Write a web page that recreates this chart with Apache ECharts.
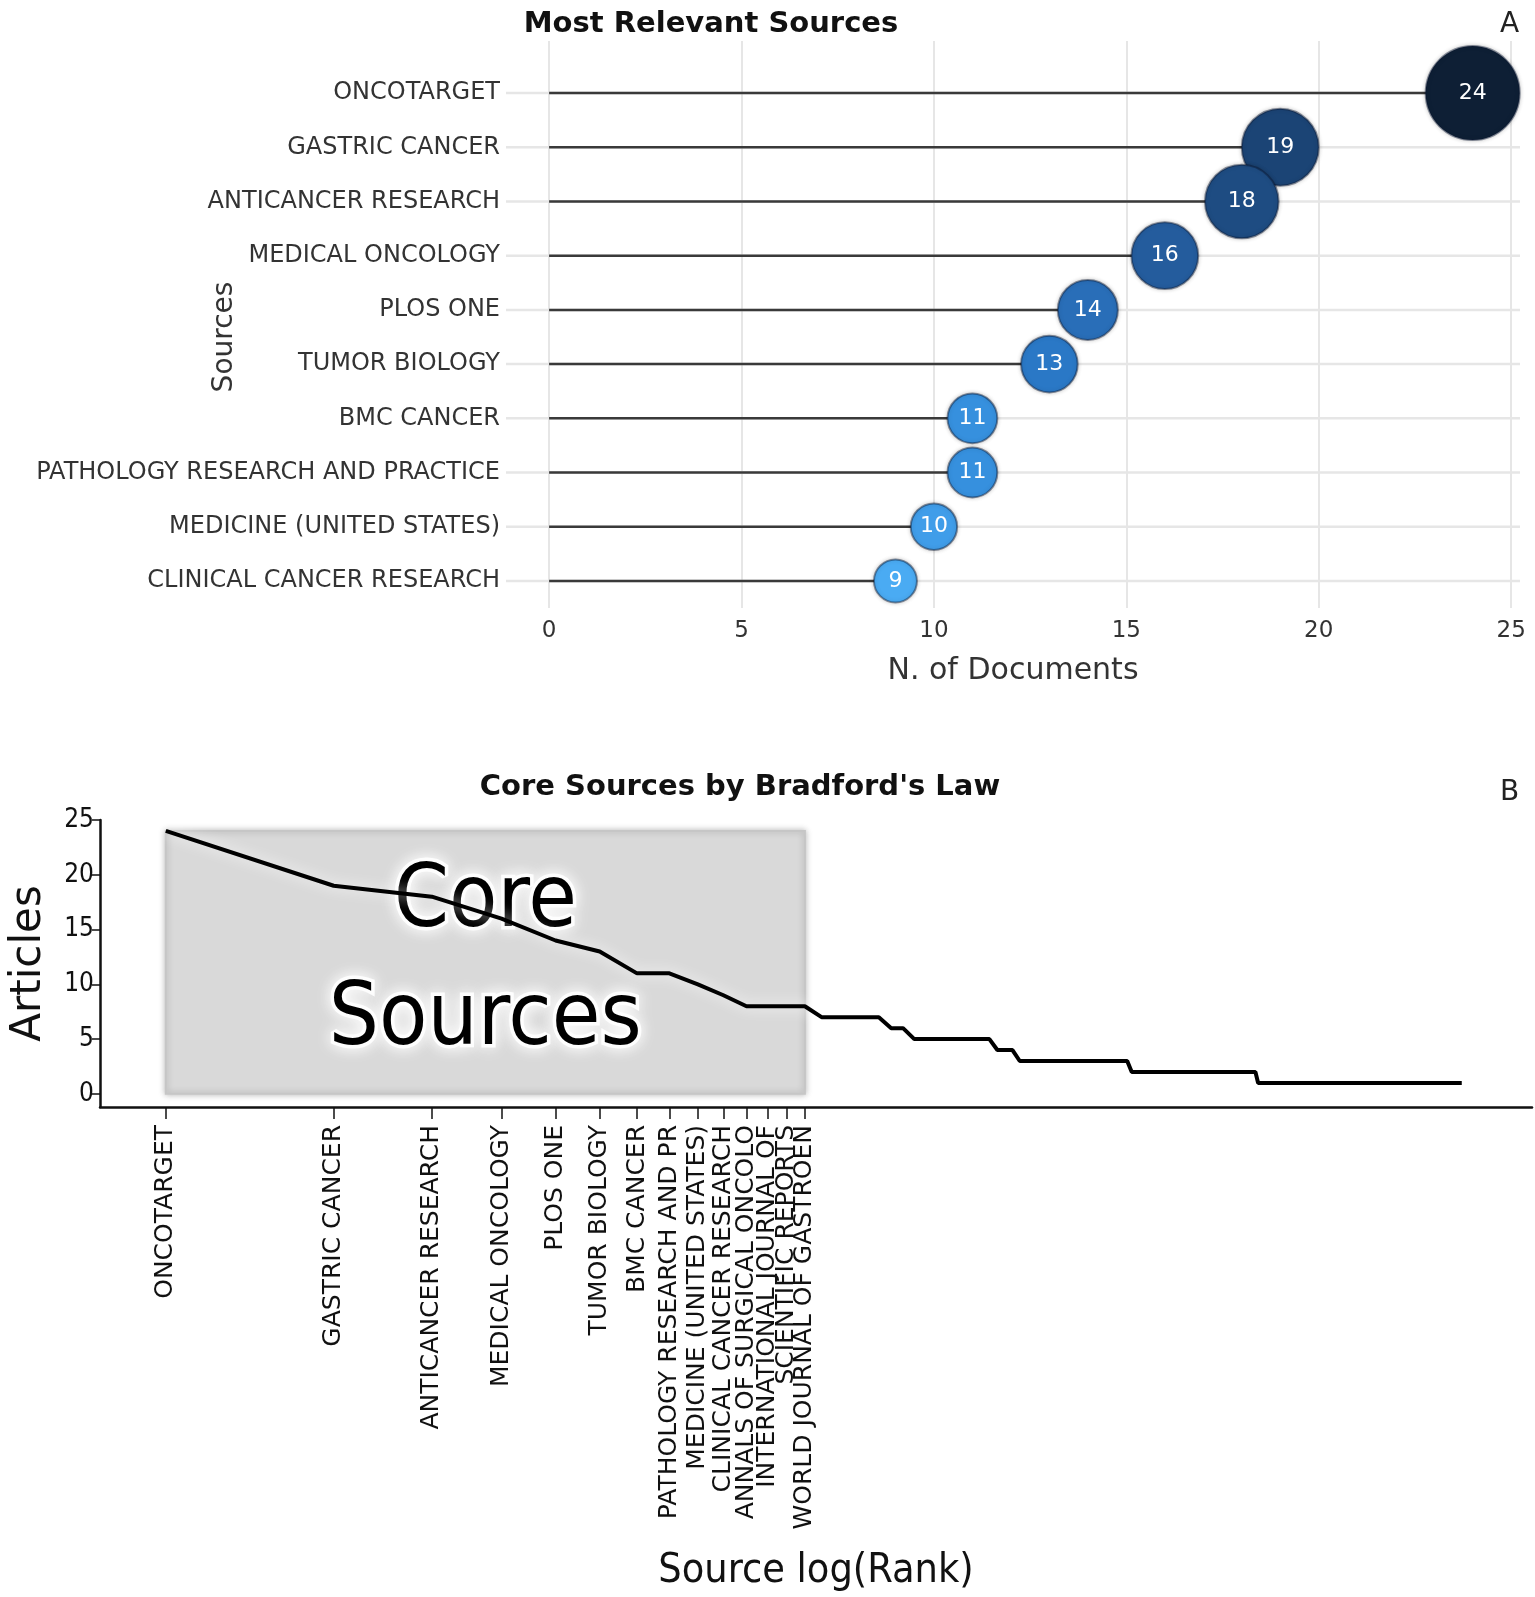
<!DOCTYPE html>
<html>
<head>
<meta charset="utf-8">
<script src="https://cdn.jsdelivr.net/npm/echarts@6/dist/echarts.min.js"></script>
<style>
  html, body { margin: 0; padding: 0; background: #fff; }
  #chart { width: 1535px; height: 1597px; }
</style>
</head>
<body>
<div id="chart"></div>
<script>
// panel A: most relevant sources
const sources = [
    'ONCOTARGET',
    'GASTRIC CANCER',
    'ANTICANCER RESEARCH',
    'MEDICAL ONCOLOGY',
    'PLOS ONE',
    'TUMOR BIOLOGY',
    'BMC CANCER',
    'PATHOLOGY RESEARCH AND PRACTICE',
    'MEDICINE (UNITED STATES)',
    'CLINICAL CANCER RESEARCH'
];
const documents = [24, 19, 18, 16, 14, 13, 11, 11, 10, 9];
const docTicks = [0, 5, 10, 15, 20, 25];

// panel B: bradford's law (rank of source, articles)
const coreSources = [
    'ONCOTARGET',
    'GASTRIC CANCER',
    'ANTICANCER RESEARCH',
    'MEDICAL ONCOLOGY',
    'PLOS ONE',
    'TUMOR BIOLOGY',
    'BMC CANCER',
    'PATHOLOGY RESEARCH AND PR',
    'MEDICINE (UNITED STATES)',
    'CLINICAL CANCER RESEARCH',
    'ANNALS OF SURGICAL ONCOLO',
    'INTERNATIONAL JOURNAL OF',
    'SCIENTIFIC REPORTS',
    'WORLD JOURNAL OF GASTROEN'
];
const coreRanks = [1, 2, 3, 4, 5, 6, 7, 8, 9, 10, 11, 12, 13, 14];
const sourceRanks = [1, 2, 3, 4, 5, 6, 7, 8, 9, 10, 11, 12, 13, 14, 15, 19, 20, 21, 22, 30, 31, 33, 34, 53, 54, 90, 91, 211];
const sourceArticles = [24, 19, 18, 16, 14, 13, 11, 11, 10, 9, 8, 8, 8, 8, 7, 7, 6, 6, 5, 5, 4, 4, 3, 3, 2, 2, 1, 1];
const articleTicks = [0, 5, 10, 15, 20, 25];

const font = 'DejaVu Sans';
const fontNarrow = 'DejaVu Sans Condensed';

// the rank labels sit very close together at the right end; echarts hides a label
// that overlaps the last one, so odd and even ranks go on two stacked axes
const oddRanks = coreRanks.filter(r => r % 2 === 1);
const evenRanks = coreRanks.filter(r => r % 2 === 0);

function rankAxis(ticks, main) {
    return {
        gridIndex: 2, type: 'log', logBase: 10, min: 0.762, max: 282,
        position: 'bottom',
        name: main ? 'Source log(Rank)' : '',
        nameLocation: 'middle', nameGap: 444, nameMoveOverlap: false,
        nameTextStyle: { fontFamily: fontNarrow, fontSize: 41, color: '#111' },
        axisLine: { show: main, onZero: false, lineStyle: { color: '#111', width: 2.5 } },
        axisTick: { show: true, customValues: ticks, length: 12, lineStyle: { color: '#111', width: 1.5 } },
        axisLabel: {
            customValues: ticks,
            interval: 0,
            hideOverlap: false,
            showMinLabel: true,
            showMaxLabel: true,
            rotate: 90,
            margin: 18,
            fontFamily: font,
            fontSize: 25,
            color: '#111',
            formatter: function (v) {
                return coreSources[Math.round(v) - 1] || '';
            }
        },
        splitLine: { show: false }
    };
}

const chart = echarts.init(document.getElementById('chart'), null, { renderer: 'canvas' });

const option = {
    backgroundColor: '#fff',
    animation: false,
    title: [
        {
            text: 'Most Relevant Sources',
            left: 706, top: 5, textAlign: 'center',
            textStyle: { fontFamily: font, fontWeight: 'bold', fontSize: 29, color: '#111' }
        },
        {
            text: "Core Sources by Bradford's Law",
            left: 735, top: 768, textAlign: 'center',
            textStyle: { fontFamily: font, fontWeight: 'bold', fontSize: 29, color: '#111' }
        },
        { text: 'A', left: 1495, top: 6, textStyle: { fontFamily: font, fontWeight: 'normal', fontSize: 28, color: '#222' } },
        { text: 'B', left: 1495, top: 774, textStyle: { fontFamily: font, fontWeight: 'normal', fontSize: 28, color: '#222' } }
    ],
    grid: [
        { left: 506, right: 15, top: 66, height: 542 },   // A
        { left: 506, right: 15, top: 41, height: 25 },    // A (grid line top extension)
        { left: 94, right: 3, top: 820, bottom: 490 }      // B
    ],
    visualMap: {
        show: false,
        seriesIndex: 1,
        dimension: 0,
        min: 9,
        max: 24,
        inRange: {
            color: ['#4aabf3', '#2c82d4', '#2764aa', '#1e4c82', '#15335a', '#0e1f35'],
            symbolSize: [43, 94]
        }
    },
    xAxis: [
        {
            gridIndex: 0, type: 'value', min: -1.12, max: 25.23,
            name: 'N. of Documents', nameLocation: 'middle', nameGap: 48, nameMoveOverlap: false,
            nameTextStyle: { fontFamily: font, fontSize: 30, color: '#333' },
            axisLine: { show: false },
            axisTick: { show: false, customValues: docTicks },
            axisLabel: { customValues: docTicks, fontFamily: font, fontSize: 23, color: '#333', margin: 12 },
            splitLine: { show: true, lineStyle: { color: '#e6e6e6', width: 2 } }
        },
        {
            gridIndex: 1, type: 'value', min: -1.12, max: 25.23,
            axisLine: { show: false },
            axisTick: { show: false, customValues: docTicks },
            axisLabel: { show: false, customValues: docTicks },
            splitLine: { show: true, lineStyle: { color: '#e6e6e6', width: 2 } }
        },
        rankAxis(oddRanks, true),
        rankAxis(evenRanks, false)
    ],
    yAxis: [
        {
            gridIndex: 0, type: 'category', inverse: true, data: sources,
            name: 'Sources', nameLocation: 'middle', nameGap: 267, nameRotate: 90, nameMoveOverlap: false,
            nameTextStyle: { fontFamily: font, fontSize: 28, color: '#333' },
            axisLine: { show: false },
            axisTick: { show: false },
            axisLabel: { fontFamily: font, fontSize: 24, color: '#333', margin: 6 },
            splitLine: { show: false }
        },
        {
            gridIndex: 1, type: 'value', show: false
        },
        {
            gridIndex: 2, type: 'value', min: -1.2, max: 25,
            name: 'Articles', nameLocation: 'middle', nameGap: 50, nameRotate: 90, nameMoveOverlap: false,
            nameTextStyle: { fontFamily: font, fontSize: 42, color: '#111' },
            axisLine: { show: true, onZero: false, lineStyle: { color: '#111', width: 2.5 } },
            axisTick: { show: true, customValues: articleTicks, length: 8, lineStyle: { color: '#111', width: 1.5 } },
            axisLabel: { customValues: articleTicks, fontFamily: fontNarrow, fontSize: 26, color: '#111', margin: 6 },
            splitLine: { show: false }
        }
    ],
    series: [
        {
            // lollipop sticks (+ light row grid line as background)
            type: 'bar',
            xAxisIndex: 0, yAxisIndex: 0,
            data: documents,
            barWidth: 2.5,
            showBackground: true,
            backgroundStyle: { color: '#e6e6e6' },
            itemStyle: { color: '#3a3a3a' },
            z: 2
        },
        {
            type: 'scatter',
            xAxisIndex: 0, yAxisIndex: 0,
            data: documents.map((d, i) => [d, sources[i]]),
            itemStyle: {
                borderColor: 'rgba(10,25,50,0.45)',
                borderWidth: 2,
                opacity: 1,
                shadowColor: 'rgba(0,0,0,0.25)',
                shadowBlur: 4
            },
            label: {
                show: true,
                position: 'inside',
                formatter: p => p.value[0],
                fontFamily: font,
                fontSize: 22,
                color: '#fff'
            },
            z: 5
        },
        {
            type: 'line',
            xAxisIndex: 2, yAxisIndex: 2,
            data: sourceRanks.map((r, i) => [r, sourceArticles[i]]),
            showSymbol: false,
            lineStyle: {
                color: '#000',
                width: 4,
                shadowColor: '#fff',
                shadowBlur: 14
            },
            markArea: {
                silent: true,
                itemStyle: {
                    color: '#d9d9d9',
                    borderColor: '#c6c6c6',
                    borderWidth: 2,
                    shadowColor: 'rgba(0,0,0,0.25)',
                    shadowBlur: 6
                },
                label: {
                    show: true,
                    position: 'inside',
                    formatter: 'Core\nSources',
                    fontFamily: fontNarrow,
                    fontSize: 88,
                    lineHeight: 118,
                    color: '#000',
                    textBorderColor: 'rgba(255,255,255,0.9)',
                    textBorderWidth: 7,
                    textShadowColor: '#fff',
                    textShadowBlur: 16
                },
                data: [[
                    { xAxis: coreRanks[0], yAxis: 0 },
                    { xAxis: coreRanks[coreRanks.length - 1], yAxis: Math.max(...sourceArticles) }
                ]]
            },
            z: 3
        }
    ]
};

chart.setOption(option);
</script>
</body>
</html>
